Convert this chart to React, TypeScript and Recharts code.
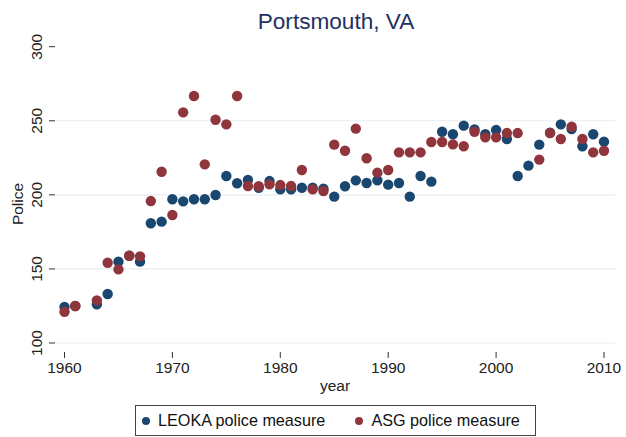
import { CartesianGrid, Legend, Scatter, ScatterChart, XAxis, YAxis } from "recharts";

const years = [
  1960, 1961, 1963, 1964, 1965, 1966, 1967, 1968, 1969, 1970, 1971, 1972, 1973, 1974, 1975, 1976,
  1977, 1978, 1979, 1980, 1981, 1982, 1983, 1984, 1985, 1986, 1987, 1988, 1989, 1990, 1991, 1992,
  1993, 1994, 1995, 1996, 1997, 1998, 1999, 2000, 2001, 2002, 2003, 2004, 2005, 2006, 2007, 2008,
  2009, 2010,
];

const leoka = [
  124.3, 125, 126.1, 133.1, 154.9, 158.9, 154.9, 180.8, 181.9, 197, 195.6, 197, 197, 199.9, 212.7, 207.8,
  210, 204.8, 209.3, 203.7, 203.7, 204.8, 204.8, 204.2, 198.8, 205.8, 209.8, 208, 209.8, 206.9, 208, 198.8,
  212.7, 208.9, 242.6, 240.9, 246.7, 244.2, 240.9, 243.8, 237.7, 212.7, 219.7, 233.9, 242, 247.6, 244.4, 232.8,
  240.9, 235.9,
];

const asg: (number | null)[] = [
  121.1, 125, 128.8, 154.2, 149.7, 158.9, 158.5, 195.8, 215.6, 186.4, 255.7, 266.7, 220.6, 250.7, 247.6, 266.7,
  206, 205.8, 207.1, 206.6, 206, 216.8, 203.7, 202.6, 233.9, 229.8, 244.7, 224.7, 215, 216.8, 228.7, 228.7,
  228.7, 235.7, 235.7, 234.1, 232.8, 242.6, 238.8, 238.8, 241.7, 241.7, null, 223.8, 241.7, 237.7, 246, 237.7,
  228.7, 229.8,
];

const xTicks = [1960, 1970, 1980, 1990, 2000, 2010];
const yTicks = [100, 150, 200, 250, 300];
const gridValues = [100, 150, 200, 250];

const BLUE = "#1a476f";
const RED = "#90353b";
const FONT = "'Liberation Sans', Arial, sans-serif";

const leokaData = years.map((year, i) => ({ year, police: leoka[i] }));
const asgData = years
  .map((year, i) => ({ year, police: asg[i] }))
  .filter((d) => d.police !== null);

const dot = (color: string) => (props: any) =>
  <circle cx={props.cx} cy={props.cy} r={5.2} fill={color} />;

const YTick = (props: any) => {
  const { x, y, payload } = props;
  const tx = x - 5;
  return (
    <text x={tx} y={y} transform={`rotate(-90, ${tx}, ${y})`} textAnchor="middle"
      fontSize={15.5} fontFamily={FONT} fill="#222">
      {payload.value}
    </text>
  );
};

const legendItems = [
  { label: "LEOKA police measure", color: BLUE },
  { label: "ASG police measure", color: RED },
];

const LegendBox = () => (
  <div style={{
    boxSizing: "border-box", width: 401, height: 31, border: "1px solid #444",
    display: "flex", alignItems: "center", paddingLeft: 6, fontFamily: FONT, fontSize: 16.2, color: "#111",
  }}>
    {legendItems.map((it, i) => (
      <div key={it.label} style={{ display: "flex", alignItems: "center", marginLeft: i ? 30 : 0 }}>
        <span style={{ width: 8, height: 8, borderRadius: 4, background: it.color, marginRight: 8 }} />
        <span>{it.label}</span>
      </div>
    ))}
  </div>
);

export default function App() {
  return (
    <div style={{ position: "absolute", left: 0, top: 0, width: 626, height: 437, background: "#fff" }}>
      <div style={{
        position: "absolute", left: 55, width: 562, top: 9, textAlign: "center",
        fontFamily: FONT, fontSize: 22.6, lineHeight: "26px", color: "#1f3161",
      }}>
        Portsmouth, VA
      </div>
      <ScatterChart width={626} height={437} margin={{ top: 40, right: 11, left: 0, bottom: 45 }}>
        <CartesianGrid vertical={false} horizontalValues={gridValues} stroke="#e6eef0" strokeWidth={1.2} />
        <XAxis type="number" dataKey="year" domain={[1959.12, 2011.02]} ticks={xTicks} allowDataOverflow
          axisLine={false} tickSize={6} tickMargin={4} height={40}
          tickLine={{ stroke: "#333" }}
          tick={{ fontSize: 15.5, fontFamily: FONT, fill: "#222" }}
          label={{
            content: ({ viewBox }: any) => (
              <text x={viewBox.x + viewBox.width / 2} y={viewBox.y + 39} textAnchor="middle"
                fontSize={15.5} fontFamily={FONT} fill="#222">year</text>
            ),
          }}
        />
        <YAxis type="number" dataKey="police" domain={[93.93, 304.52]} ticks={yTicks} allowDataOverflow
          axisLine={false} tickSize={6} width={55} tickLine={{ stroke: "#333" }} tick={<YTick />}
          label={{
            content: ({ viewBox }: any) => {
              const lx = 23;
              const ly = viewBox.y + viewBox.height / 2 + 8;
              return (
                <text x={lx} y={ly} transform={`rotate(-90, ${lx}, ${ly})`} textAnchor="middle"
                  fontSize={15.5} fontFamily={FONT} fill="#222">Police</text>
              );
            },
          }}
        />
        <Legend verticalAlign="middle" align="center" layout="horizontal" content={<LegendBox />}
          wrapperStyle={{ position: "absolute", top: 405, left: 135, width: 401, height: 31 }} />
        <Scatter name="LEOKA police measure" data={leokaData} fill={BLUE} shape={dot(BLUE)} isAnimationActive={false} />
        <Scatter name="ASG police measure" data={asgData} fill={RED} shape={dot(RED)} isAnimationActive={false} />
      </ScatterChart>
    </div>
  );
}
